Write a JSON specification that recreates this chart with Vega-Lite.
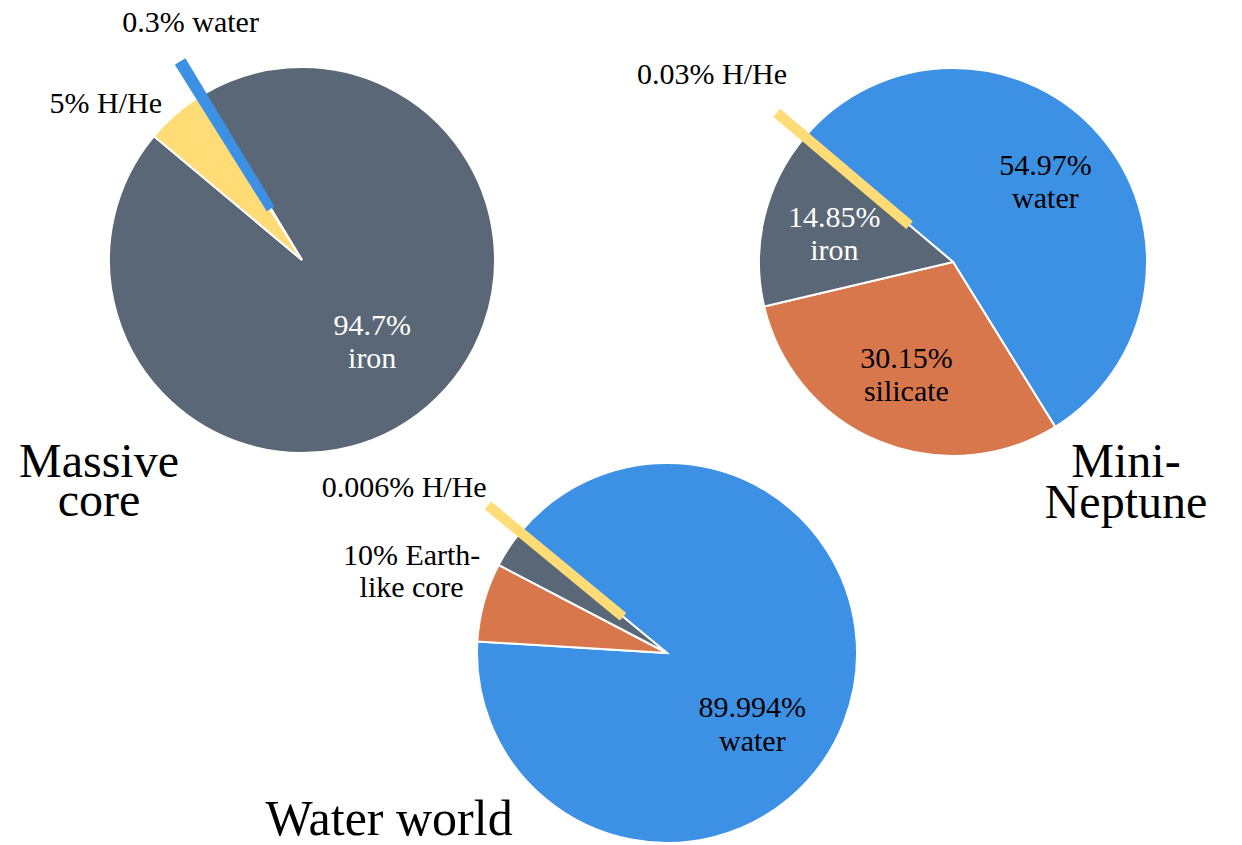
{
  "$schema": "https://vega.github.io/schema/vega-lite/v6.json",
  "padding": 0,
  "background": "white",
  "bounds": "flush",
  "align": "each",
  "columns": 3,
  "spacing": 0,
  "data": {
    "values": [
      {"chart": "Massive core", "component": "iron", "pct": 94.7, "order": 1, "label": "94.7%\niron"},
      {"chart": "Massive core", "component": "H/He", "pct": 5, "order": 2, "label": "5% H/He"},
      {"chart": "Massive core", "component": "water", "pct": 0.3, "order": 3, "label": "0.3% water"},
      {"chart": "Mini-Neptune", "component": "water", "pct": 54.97, "order": 1, "label": "54.97%\nwater"},
      {"chart": "Mini-Neptune", "component": "silicate", "pct": 30.15, "order": 2, "label": "30.15%\nsilicate"},
      {"chart": "Mini-Neptune", "component": "iron", "pct": 14.85, "order": 3, "label": "14.85%\niron"},
      {"chart": "Mini-Neptune", "component": "H/He", "pct": 0.03, "order": 4, "label": "0.03% H/He"},
      {"chart": "Water world", "component": "water", "pct": 89.994, "order": 1, "label": "89.994%\nwater"},
      {"chart": "Water world", "component": "silicate", "pct": 6.7, "order": 2, "label": "10% Earth-\nlike core"},
      {"chart": "Water world", "component": "iron", "pct": 3.3, "order": 3, "label": "10% Earth-\nlike core"},
      {"chart": "Water world", "component": "H/He", "pct": 0.006, "order": 4, "label": "0.006% H/He"}
    ]
  },
  "concat": [
    {
      "width": 604,
      "height": 520,
      "title": {"text": ["Massive", "core"], "orient": "bottom", "anchor": "start", "frame": "group", "align": "center", "baseline": "alphabetic", "dx": 99, "offset": -43, "fontSize": 48, "lineHeight": 39},
      "transform": [
        {"filter": "datum.chart === 'Massive core'"},
        {"stack": "pct", "groupby": ["chart"], "sort": [{"field": "order", "order": "ascending"}], "as": ["t0", "t1"]},
        {"calculate": "(datum.t0 + datum.t1) / 2", "as": "tm"}
      ],
      "layer": [
        {
          "transform": [{"filter": "datum.pct >= 1"}],
          "mark": {"type": "arc", "outerRadius": 193, "stroke": "white", "strokeWidth": 2},
          "encoding": {
            "theta": {"field": "t0", "type": "quantitative", "scale": {"domain": [0, 100], "range": [-0.54105, 5.74214]}},
            "theta2": {"field": "t1"},
            "color": {"field": "component", "type": "nominal", "legend": null, "scale": {"domain": ["iron", "H/He", "water", "silicate"], "range": ["#5a6776", "#ffdc76", "#3d91e4", "#d8774b"]}}
          }
        },
        {
          "transform": [{"filter": "datum.pct < 1"}],
          "mark": {"type": "arc", "outerRadius": 229, "innerRadius": 64, "strokeWidth": 8, "strokeJoin": "miter"},
          "encoding": {
            "theta": {"field": "t0", "type": "quantitative", "scale": {"domain": [0, 100], "range": [-0.54105, 5.74214]}},
            "theta2": {"field": "t1"},
            "color": {"field": "component", "type": "nominal", "legend": null, "scale": {"domain": ["iron", "H/He", "water", "silicate"], "range": ["#5a6776", "#ffdc76", "#3d91e4", "#d8774b"]}},
            "stroke": {"field": "component", "type": "nominal", "legend": null, "scale": {"domain": ["iron", "H/He", "water", "silicate"], "range": ["#5a6776", "#ffdc76", "#3d91e4", "#d8774b"]}}
          }
        },
        {
          "transform": [{"filter": "datum.pct >= 12"}],
          "mark": {"type": "text", "radius": 108, "fontSize": 30, "lineHeight": 33, "lineBreak": "\n", "align": "center", "baseline": "middle", "dy": -16},
          "encoding": {
            "theta": {"field": "tm", "type": "quantitative", "scale": {"domain": [0, 100], "range": [-0.54105, 5.74214]}},
            "text": {"field": "label"},
            "color": {"condition": {"test": "datum.component === 'iron'", "value": "white"}, "value": "black"}
          }
        },
        {
          "transform": [{"filter": "datum.pct >= 1 && datum.pct < 12"}],
          "mark": {"type": "text", "radius": 213, "fontSize": 30, "align": "right", "baseline": "middle", "dy": 5, "color": "black"},
          "encoding": {
            "theta": {"field": "tm", "type": "quantitative", "scale": {"domain": [0, 100], "range": [-0.54105, 5.74214]}},
            "text": {"field": "label"}
          }
        },
        {
          "transform": [{"filter": "datum.pct < 1"}],
          "mark": {"type": "text", "radius": 278, "fontSize": 30, "align": "center", "baseline": "middle", "dx": 34, "color": "black"},
          "encoding": {
            "theta": {"field": "tm", "type": "quantitative", "scale": {"domain": [0, 100], "range": [-0.54105, 5.74214]}},
            "text": {"field": "label"}
          }
        }
      ]
    },
    {
      "width": 126,
      "height": 1,
      "data": {"values": []},
      "mark": "point"
    },
    {
      "width": 446,
      "height": 524,
      "title": {"text": ["Mini-", "Neptune"], "orient": "bottom", "anchor": "start", "frame": "group", "align": "center", "baseline": "alphabetic", "dx": 396, "offset": -47, "fontSize": 48, "lineHeight": 41},
      "transform": [
        {"filter": "datum.chart === 'Mini-Neptune'"},
        {"stack": "pct", "groupby": ["chart"], "sort": [{"field": "order", "order": "ascending"}], "as": ["t0", "t1"]},
        {"calculate": "(datum.t0 + datum.t1) / 2", "as": "tm"}
      ],
      "layer": [
        {
          "transform": [{"filter": "datum.pct >= 1"}],
          "mark": {"type": "arc", "outerRadius": 194, "stroke": "white", "strokeWidth": 2},
          "encoding": {
            "theta": {"field": "t0", "type": "quantitative", "scale": {"domain": [0, 100], "range": [-0.86743, 5.41576]}},
            "theta2": {"field": "t1"},
            "color": {"field": "component", "type": "nominal", "legend": null, "scale": {"domain": ["iron", "H/He", "water", "silicate"], "range": ["#5a6776", "#ffdc76", "#3d91e4", "#d8774b"]}}
          }
        },
        {
          "transform": [{"filter": "datum.pct < 1"}],
          "mark": {"type": "arc", "outerRadius": 226, "innerRadius": 62, "strokeWidth": 10, "strokeJoin": "miter"},
          "encoding": {
            "theta": {"field": "t0", "type": "quantitative", "scale": {"domain": [0, 100], "range": [-0.86743, 5.41576]}},
            "theta2": {"field": "t1"},
            "color": {"field": "component", "type": "nominal", "legend": null, "scale": {"domain": ["iron", "H/He", "water", "silicate"], "range": ["#5a6776", "#ffdc76", "#3d91e4", "#d8774b"]}},
            "stroke": {"field": "component", "type": "nominal", "legend": null, "scale": {"domain": ["iron", "H/He", "water", "silicate"], "range": ["#5a6776", "#ffdc76", "#3d91e4", "#d8774b"]}}
          }
        },
        {
          "transform": [{"filter": "datum.pct >= 12"}],
          "mark": {"type": "text", "radius": 122, "fontSize": 30, "lineHeight": 33, "lineBreak": "\n", "align": "center", "baseline": "middle", "dy": -16},
          "encoding": {
            "theta": {"field": "tm", "type": "quantitative", "scale": {"domain": [0, 100], "range": [-0.86743, 5.41576]}},
            "text": {"field": "label"},
            "color": {"condition": {"test": "datum.component === 'iron'", "value": "white"}, "value": "black"}
          }
        },
        {
          "transform": [{"filter": "datum.pct < 1"}],
          "mark": {"type": "text", "radius": 300, "fontSize": 30, "align": "center", "baseline": "middle", "dx": -12, "dy": 7, "color": "black"},
          "encoding": {
            "theta": {"field": "tm", "type": "quantitative", "scale": {"domain": [0, 100], "range": [-0.86743, 5.41576]}},
            "text": {"field": "label"}
          }
        }
      ]
    },
    {
      "width": 604,
      "height": 1,
      "data": {"values": []},
      "mark": "point"
    },
    {
      "width": 126,
      "height": 258,
      "title": {"text": "Water world", "orient": "bottom", "anchor": "start", "frame": "group", "align": "center", "baseline": "alphabetic", "dx": -215, "offset": -12, "fontSize": 50},
      "transform": [
        {"filter": "datum.chart === 'Water world'"},
        {"stack": "pct", "groupby": ["chart"], "sort": [{"field": "order", "order": "ascending"}], "as": ["t0", "t1"]},
        {"calculate": "(datum.t0 + datum.t1) / 2", "as": "tm"}
      ],
      "layer": [
        {
          "transform": [{"filter": "datum.pct >= 1"}],
          "mark": {"type": "arc", "outerRadius": 190, "stroke": "white", "strokeWidth": 2},
          "encoding": {
            "theta": {"field": "t0", "type": "quantitative", "scale": {"domain": [0, 100], "range": [-0.88139, 5.4018]}},
            "theta2": {"field": "t1"},
            "color": {"field": "component", "type": "nominal", "legend": null, "scale": {"domain": ["iron", "H/He", "water", "silicate"], "range": ["#5a6776", "#ffdc76", "#3d91e4", "#d8774b"]}}
          }
        },
        {
          "transform": [{"filter": "datum.pct < 1"}],
          "mark": {"type": "arc", "outerRadius": 227, "innerRadius": 62, "strokeWidth": 10, "strokeJoin": "miter"},
          "encoding": {
            "theta": {"field": "t0", "type": "quantitative", "scale": {"domain": [0, 100], "range": [-0.88139, 5.4018]}},
            "theta2": {"field": "t1"},
            "color": {"field": "component", "type": "nominal", "legend": null, "scale": {"domain": ["iron", "H/He", "water", "silicate"], "range": ["#5a6776", "#ffdc76", "#3d91e4", "#d8774b"]}},
            "stroke": {"field": "component", "type": "nominal", "legend": null, "scale": {"domain": ["iron", "H/He", "water", "silicate"], "range": ["#5a6776", "#ffdc76", "#3d91e4", "#d8774b"]}}
          }
        },
        {
          "transform": [{"filter": "datum.pct >= 12"}],
          "mark": {"type": "text", "radius": 110, "fontSize": 30, "lineHeight": 34, "lineBreak": "\n", "align": "center", "baseline": "middle", "dx": -17, "dy": 15},
          "encoding": {
            "theta": {"field": "tm", "type": "quantitative", "scale": {"domain": [0, 100], "range": [-0.88139, 5.4018]}},
            "text": {"field": "label"},
            "color": {"condition": {"test": "datum.component === 'iron'", "value": "white"}, "value": "black"}
          }
        },
        {
          "transform": [{"filter": "datum.pct < 1"}],
          "mark": {"type": "text", "radius": 244, "fontSize": 30, "align": "right", "baseline": "middle", "dx": 8, "dy": -10, "color": "black"},
          "encoding": {
            "theta": {"field": "tm", "type": "quantitative", "scale": {"domain": [0, 100], "range": [-0.88139, 5.4018]}},
            "text": {"field": "label"}
          }
        },
        {
          "transform": [
            {"aggregate": [{"op": "sum", "field": "pct", "as": "pct"}, {"op": "min", "field": "t0", "as": "t0"}, {"op": "max", "field": "t1", "as": "t1"}], "groupby": ["label"]},
            {"filter": "datum.pct >= 1 && datum.pct < 12"},
            {"calculate": "(datum.t0 + datum.t1) / 2", "as": "tm"}
          ],
          "mark": {"type": "text", "radius": 268, "fontSize": 30, "lineHeight": 32, "lineBreak": "\n", "align": "center", "baseline": "middle", "dx": -6, "dy": 1, "color": "black"},
          "encoding": {
            "theta": {"field": "tm", "type": "quantitative", "scale": {"domain": [0, 100], "range": [-0.88139, 5.4018]}},
            "text": {"field": "label"}
          }
        }
      ]
    }
  ],
  "config": {
    "view": {"stroke": null},
    "text": {"font": "Liberation Serif"},
    "title": {"font": "Liberation Serif", "fontWeight": "normal", "color": "black"}
  }
}
